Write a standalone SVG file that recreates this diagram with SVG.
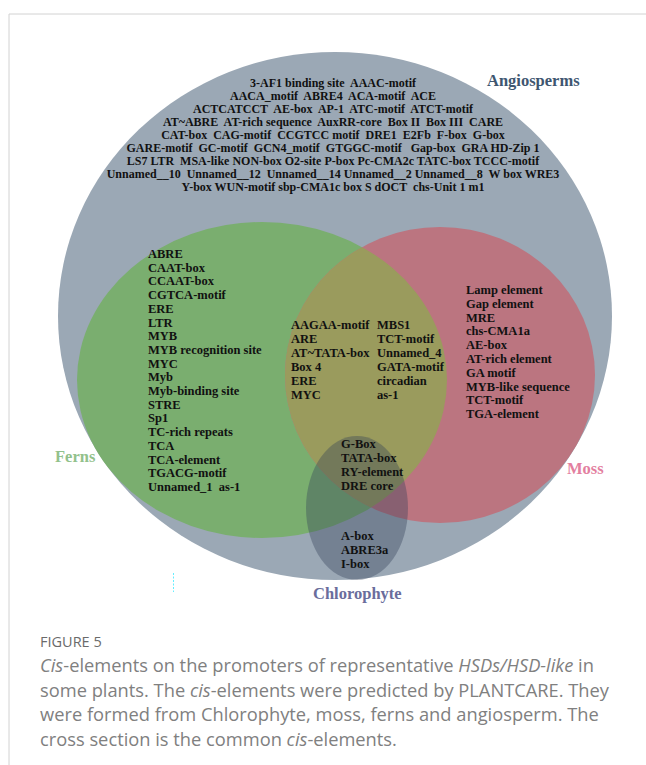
<svg xmlns="http://www.w3.org/2000/svg" width="646" height="765" viewBox="0 0 646 765">
<style>
.t{font-family:"Liberation Serif","Times New Roman",serif;font-weight:bold;font-size:12px;fill:#111;white-space:pre}
.l{font-family:"Liberation Serif","Times New Roman",serif;font-weight:bold;font-size:12.5px;fill:#111;white-space:pre}
.lab{font-family:"Liberation Serif","Times New Roman",serif;font-weight:bold;font-size:16.5px}
.cap{font-family:"Open Sans","Noto Sans",sans-serif;font-size:18.3px;fill:#808080}
.fig{font-family:"Open Sans","Noto Sans",sans-serif;font-size:14.5px;fill:#6a6a6a}
</style>
<defs>
<clipPath id="cg"><ellipse cx="262" cy="380" rx="185" ry="158"/></clipPath>
</defs>
<rect width="646" height="765" fill="#fff"/>
<path d="M646 14 H9 V765" fill="none" stroke="#d2d2d2" stroke-width="1"/>
<g id="angiosperms">
<ellipse cx="335" cy="316" rx="277" ry="264" fill="#9ba8b5"/>
</g>
<g id="ferns">
<ellipse cx="262" cy="380" rx="185" ry="158" fill="#7aae6f"/>
</g>
<g id="moss">
<ellipse cx="440" cy="375" rx="155" ry="148" fill="#bb7580"/>
<ellipse cx="440" cy="375" rx="155" ry="148" fill="#9a9b5d" clip-path="url(#cg)"/>
</g>
<g id="chlorophyte">
<ellipse cx="357" cy="508" rx="51" ry="72" fill="#2f3d55" fill-opacity="0.36"/>
</g>
<g id="angio-text" text-anchor="middle">
<text class="t" x="333" y="87">3-AF1 binding site  AAAC-motif</text>
<text class="t" x="333" y="100">AACA_motif  ABRE4  ACA-motif  ACE</text>
<text class="t" x="333" y="113">ACTCATCCT  AE-box  AP-1  ATC-motif  ATCT-motif</text>
<text class="t" x="333" y="126">AT~ABRE  AT-rich sequence  AuxRR-core  Box II  Box III  CARE</text>
<text class="t" x="333" y="139">CAT-box  CAG-motif  CCGTCC motif  DRE1  E2Fb  F-box  G-box</text>
<text class="t" x="333" y="152">GARE-motif  GC-motif  GCN4_motif  GTGGC-motif   Gap-box  GRA HD-Zip 1</text>
<text class="t" x="333" y="165">LS7 LTR  MSA-like NON-box O2-site P-box Pc-CMA2c TATC-box TCCC-motif</text>
<text class="t" x="333" y="178">Unnamed__10  Unnamed__12  Unnamed__14 Unnamed__2 Unnamed__8  W box WRE3</text>
<text class="t" x="333" y="191">Y-box WUN-motif sbp-CMA1c box S dOCT  chs-Unit 1 m1</text>
</g>
<g id="fern-text">
<text class="l" x="148" y="258">ABRE</text>
<text class="l" x="148" y="271.7">CAAT-box</text>
<text class="l" x="148" y="285.4">CCAAT-box</text>
<text class="l" x="148" y="299.1">CGTCA-motif</text>
<text class="l" x="148" y="312.8">ERE</text>
<text class="l" x="148" y="326.5">LTR</text>
<text class="l" x="148" y="340.2">MYB</text>
<text class="l" x="148" y="353.9">MYB recognition site</text>
<text class="l" x="148" y="367.6">MYC</text>
<text class="l" x="148" y="381.3">Myb</text>
<text class="l" x="148" y="395">Myb-binding site</text>
<text class="l" x="148" y="408.7">STRE</text>
<text class="l" x="148" y="422.4">Sp1</text>
<text class="l" x="148" y="436.1">TC-rich repeats</text>
<text class="l" x="148" y="449.8">TCA</text>
<text class="l" x="148" y="463.5">TCA-element</text>
<text class="l" x="148" y="477.2">TGACG-motif</text>
<text class="l" x="148" y="490.9">Unnamed_1  as-1</text>
</g>
<g id="common-fern-moss-text">
<text class="l" x="291" y="329">AAGAA-motif</text>
<text class="l" x="291" y="343">ARE</text>
<text class="l" x="291" y="357">AT~TATA-box</text>
<text class="l" x="291" y="371">Box 4</text>
<text class="l" x="291" y="385">ERE</text>
<text class="l" x="291" y="399">MYC</text>
<text class="l" x="377" y="329">MBS1</text>
<text class="l" x="377" y="343">TCT-motif</text>
<text class="l" x="377" y="357">Unnamed_4</text>
<text class="l" x="377" y="371">GATA-motif</text>
<text class="l" x="377" y="385">circadian</text>
<text class="l" x="377" y="399">as-1</text>
</g>
<g id="moss-text">
<text class="l" x="466" y="294">Lamp element</text>
<text class="l" x="466" y="307.8">Gap element</text>
<text class="l" x="466" y="321.6">MRE</text>
<text class="l" x="466" y="335.4">chs-CMA1a</text>
<text class="l" x="466" y="349.2">AE-box</text>
<text class="l" x="466" y="363">AT-rich element</text>
<text class="l" x="466" y="376.8">GA motif</text>
<text class="l" x="466" y="390.6">MYB-like sequence</text>
<text class="l" x="466" y="404.4">TCT-motif</text>
<text class="l" x="466" y="418.2">TGA-element</text>
</g>
<g id="chloro-text">
<text class="l" x="341" y="448">G-Box</text>
<text class="l" x="341" y="462">TATA-box</text>
<text class="l" x="341" y="476">RY-element</text>
<text class="l" x="341" y="490">DRE core</text>
<text class="l" x="341" y="540">A-box</text>
<text class="l" x="341" y="554">ABRE3a</text>
<text class="l" x="341" y="568">I-box</text>
</g>
<g id="labels">
<text class="lab" x="487" y="86" fill="#3e5670">Angiosperms</text>
<text class="lab" x="55" y="462" fill="#92c18b">Ferns</text>
<text class="lab" x="567" y="474" fill="#e37fa0">Moss</text>
<text class="lab" x="313" y="599" fill="#6a6d9c">Chlorophyte</text>
</g>
<line x1="173.5" y1="573" x2="173.5" y2="592" stroke="#6ef" stroke-width="1" stroke-dasharray="2 1.5"/>
<g id="caption">
<text class="fig" x="40" y="647">FIGURE 5</text>
<text class="cap" x="40" y="672"><tspan font-style="italic">Cis</tspan>-elements on the promoters of representative <tspan font-style="italic">HSDs/HSD-like</tspan> in</text>
<text class="cap" x="40" y="697">some plants. The <tspan font-style="italic">cis</tspan>-elements were predicted by PLANTCARE. They</text>
<text class="cap" x="40" y="721">were formed from Chlorophyte, moss, ferns and angiosperm. The</text>
<text class="cap" x="40" y="746">cross section is the common <tspan font-style="italic">cis</tspan>-elements.</text>
</g>
</svg>
